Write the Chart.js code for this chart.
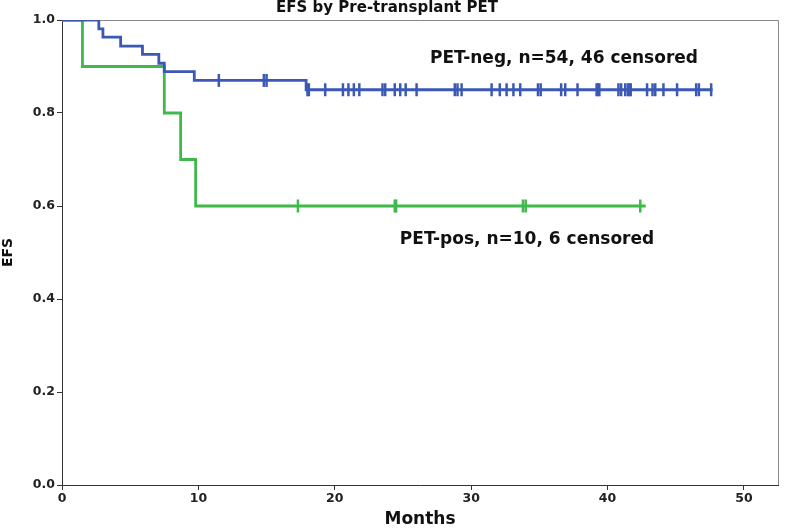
<!DOCTYPE html>
<html>
<head>
<meta charset="utf-8">
<script src="https://cdn.jsdelivr.net/npm/chart.js@4.4.1/dist/chart.umd.min.js"></script>
<style>
html,body{margin:0;padding:0;background:#fff}
#wrap{width:789px;height:530px}
</style>
</head>
<body>
<div id="wrap"><canvas id="km"></canvas></div>
<script>
/* =========================
   DATA
========================= */

const xTicks = [0,10,20,30,40,50]
const yTicks = [0.0,0.2,0.4,0.6,0.8,1.0]

// PET-neg, n=54
const negEventTimes = [2.7,3.0,4.3,5.9,7.1,7.5,9.7,17.9]
const negSurv = [0.981,0.963,0.944,0.926,0.907,0.889,0.870,0.850]
const negCensor = [11.5,14.8,15.0,18.0,18.1,19.3,20.6,21.0,21.4,21.8,23.5,23.7,24.4,24.8,25.2,26.0,
28.8,29.0,29.3,31.5,32.1,32.6,33.1,33.6,34.9,35.1,36.6,36.9,37.8,39.2,39.3,39.4,
40.8,41.0,41.3,41.5,41.6,41.7,42.9,43.3,43.5,44.1,45.1,46.5,46.7,47.6]
const negEnd = 47.7

// PET-pos, n=10
const posEventTimes = [1.5,7.5,8.7,9.8]
const posSurv = [0.9,0.8,0.7,0.6]
const posCensor = [17.3,24.4,24.5,33.8,34.0,42.4]
const posEnd = 42.8

const negLabel = "PET-neg, n=54, 46 censored"
const posLabel = "PET-pos, n=10, 6 censored"

const blue = "#3b59b4"
const green = "#3fb94b"
const font = "'DejaVu Sans', sans-serif"

/* =========================
   HELPERS
========================= */

function curve(times,surv,end){
let pts = [{x:0,y:1}]
times.forEach((t,i)=>pts.push({x:t,y:surv[i]}))
pts.push({x:end,y:surv[surv.length-1]})
return pts
}

function levelAt(times,surv,t){
let s = 1
times.forEach((e,i)=>{ if(e<=t) s = surv[i] })
return s
}

function marks(censor,times,surv){
return censor.map(t=>({x:t,y:levelAt(times,surv,t)}))
}

/* =========================
   PLUGIN: frame + texts
========================= */

const extras = {
id:"extras",
beforeDatasetsDraw(chart){
const c = chart.ctx, a = chart.chartArea
c.save()
c.strokeStyle = "#888"
c.lineWidth = 1
c.beginPath()
c.moveTo(a.left,a.top+0.5)
c.lineTo(a.right+0.5,a.top+0.5)
c.lineTo(a.right+0.5,a.bottom)
c.stroke()
c.restore()
},
afterDraw(chart){
const c = chart.ctx
c.save()
c.fillStyle = "#111"
c.textAlign = "center"
c.textBaseline = "middle"
c.font = "bold 15px " + font
c.fillText("EFS by Pre-transplant PET",387,8)
c.font = "bold 17px " + font
c.fillText(negLabel,564,59)
c.fillText(posLabel,527,240)
c.restore()
}
}

/* =========================
   CHART
========================= */

new Chart(document.getElementById("km"),{
type:"line",
data:{
datasets:[
{data:curve(negEventTimes,negSurv,negEnd),borderColor:blue,borderWidth:2.8,stepped:true,pointRadius:0,fill:false},
{data:curve(posEventTimes,posSurv,posEnd),borderColor:green,borderWidth:2.8,stepped:true,pointRadius:0,fill:false},
{data:marks(negCensor,negEventTimes,negSurv),showLine:false,pointStyle:"line",rotation:90,pointRadius:6.5,
 pointBorderColor:blue,pointBorderWidth:2.5,pointBackgroundColor:blue},
{data:marks(posCensor,posEventTimes,posSurv),showLine:false,pointStyle:"line",rotation:90,pointRadius:6.5,
 pointBorderColor:green,pointBorderWidth:2.5,pointBackgroundColor:green}
]
},
options:{
responsive:true,
maintainAspectRatio:false,
animation:false,
layout:{padding:{top:20,right:11,left:0,bottom:0}},
plugins:{legend:{display:false},tooltip:{enabled:false}},
scales:{
x:{
type:"linear",
min:0,max:52.5,
afterBuildTicks:s=>{ s.ticks = xTicks.map(v=>({value:v})) },
afterFit:s=>{ s.height = 45 },
grid:{drawOnChartArea:false,drawTicks:true,tickLength:5,color:"#333"},
border:{color:"#333",width:1},
ticks:{color:"#222",font:{family:font,size:12.5,weight:"bold"},padding:1,maxRotation:0},
title:{display:true,text:"Months",color:"#111",font:{family:font,size:17,weight:"bold"},padding:{top:2,bottom:0}}
},
y:{
min:0,max:1,
afterBuildTicks:s=>{ s.ticks = yTicks.map(v=>({value:v})) },
afterFit:s=>{ s.width = 62 },
grid:{drawOnChartArea:false,drawTicks:true,tickLength:5,color:"#333"},
border:{color:"#333",width:1},
ticks:{color:"#222",font:{family:font,size:12.5,weight:"bold"},padding:2,callback:v=>v.toFixed(1)},
title:{display:true,text:"EFS",color:"#111",font:{family:font,size:14,weight:"bold"},padding:0}
}
}
},
plugins:[extras]
})
</script>
</body>
</html>
